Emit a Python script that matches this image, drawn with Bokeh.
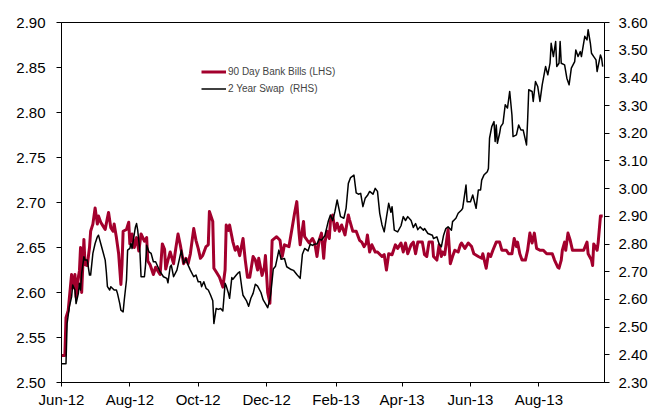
import pandas as pd
from bokeh.plotting import figure
from bokeh.models import (Range1d, LinearAxis, FixedTicker, DatetimeTickFormatter,
                          PrintfTickFormatter, Legend, LegendItem, ColumnDataSource)
from bokeh.embed import file_html
from bokeh.resources import INLINE

# ---- data (days since 1 Jun 2012) ----
start = pd.Timestamp("2012-06-01")
end_offset_days = 484.6

bills_day = [0, 3, 4, 6, 9, 10, 12, 13, 15, 16, 17, 18, 20, 21, 23, 25, 26, 28, 30, 32, 33, 35, 37, 39, 41, 42, 44, 46, 47, 49,
             51, 53, 54, 55, 58, 60, 61, 63, 65, 67, 69, 71, 74, 76, 77, 79, 82, 84, 86, 88, 90, 92, 93, 95, 97, 100, 102, 104, 106, 109,
             111, 113, 115, 118, 120, 122, 124, 126, 129, 131, 132, 135, 136, 138, 141, 144, 146, 147, 149, 150, 153, 155, 157, 159, 162, 164, 166, 168, 171, 173,
             175, 176, 179, 181, 182, 184, 186, 188, 192, 195, 197, 199, 203, 206, 208, 210, 212, 213, 216, 217, 221, 224, 226, 228, 230, 232, 234, 235, 237, 239,
             240, 242, 244, 246, 248, 250, 253, 256, 257, 260, 263, 266, 268, 270, 272, 273, 275, 277, 280, 282, 286, 288, 290, 292, 295, 298, 300, 303, 305, 307,
             309, 312, 314, 316, 318, 322, 324, 326, 328, 331, 332, 335, 337, 339, 340, 342, 345, 347, 349, 351, 354, 356, 357, 360, 363, 366, 368, 372, 375, 376,
             379, 381, 383, 385, 388, 391, 393, 397, 399, 402, 404, 406, 407, 409, 411, 414, 416, 418, 420, 422, 424, 427, 430, 433, 436, 438, 440, 443, 444, 446,
             447, 449, 450, 452, 454, 456, 458, 461, 465, 466, 469, 470, 473, 474, 475, 478, 479, 481, 483]
bills_val = [2.530, 2.530, 2.572, 2.580, 2.620, 2.605, 2.620, 2.595, 2.617, 2.624, 2.650, 2.600, 2.659, 2.631, 2.630, 2.650, 2.668, 2.676, 2.694, 2.676, 2.685, 2.678, 2.674, 2.670, 2.683, 2.689, 2.672, 2.668, 2.676, 2.661,
             2.643, 2.609, 2.631, 2.668, 2.670, 2.678, 2.654, 2.665, 2.650, 2.661, 2.646, 2.665, 2.657, 2.661, 2.635, 2.631, 2.620, 2.628, 2.624, 2.620, 2.654, 2.648, 2.626, 2.636, 2.645, 2.632, 2.649, 2.665, 2.653, 2.632,
             2.638, 2.632, 2.643, 2.671, 2.658, 2.649, 2.638, 2.641, 2.651, 2.653, 2.690, 2.679, 2.627, 2.623, 2.617, 2.606, 2.625, 2.675, 2.669, 2.675, 2.656, 2.647, 2.651, 2.641, 2.660, 2.636, 2.617, 2.617, 2.640, 2.636,
             2.625, 2.638, 2.619, 2.628, 2.641, 2.600, 2.588, 2.658, 2.662, 2.658, 2.640, 2.653, 2.651, 2.673, 2.688, 2.701, 2.666, 2.653, 2.679, 2.662, 2.655, 2.660, 2.655, 2.640, 2.658, 2.666, 2.638, 2.655, 2.668, 2.660,
             2.679, 2.686, 2.669, 2.677, 2.668, 2.675, 2.664, 2.686, 2.681, 2.668, 2.668, 2.658, 2.656, 2.651, 2.655, 2.664, 2.645, 2.653, 2.645, 2.645, 2.640, 2.642, 2.625, 2.643, 2.642, 2.653, 2.649, 2.655, 2.645, 2.655,
             2.643, 2.653, 2.656, 2.643, 2.656, 2.656, 2.642, 2.640, 2.656, 2.656, 2.640, 2.636, 2.653, 2.640, 2.645, 2.642, 2.670, 2.632, 2.640, 2.647, 2.645, 2.653, 2.655, 2.649, 2.655, 2.651, 2.643, 2.640, 2.638, 2.643,
             2.627, 2.643, 2.640, 2.647, 2.656, 2.656, 2.647, 2.647, 2.643, 2.643, 2.660, 2.651, 2.656, 2.643, 2.636, 2.636, 2.647, 2.666, 2.655, 2.666, 2.649, 2.647, 2.647, 2.643, 2.643, 2.643, 2.636, 2.628, 2.627, 2.636,
             2.647, 2.656, 2.647, 2.666, 2.658, 2.647, 2.647, 2.647, 2.647, 2.647, 2.656, 2.643, 2.636, 2.630, 2.654, 2.647, 2.656, 2.685, 2.685]

swap_day = [0, 4, 5, 7, 9, 10, 12, 13, 15, 16, 17, 18, 20, 21, 23, 25, 26, 28, 30, 32, 33, 35, 37, 39, 40, 41, 43, 44, 47, 49,
            50, 52, 53, 55, 56, 58, 59, 61, 62, 63, 65, 66, 67, 68, 70, 71, 74, 75, 76, 78, 80, 82, 84, 86, 88, 91, 94, 95, 97, 98,
            100, 103, 105, 107, 109, 111, 113, 115, 118, 120, 122, 124, 125, 127, 129, 131, 133, 135, 136, 138, 140, 142, 144, 146, 147, 149, 150, 152, 153, 156,
            158, 159, 161, 162, 165, 167, 169, 171, 173, 175, 178, 180, 182, 184, 186, 187, 189, 191, 194, 196, 199, 201, 205, 207, 210, 213, 215, 217, 220, 222,
            224, 226, 228, 230, 232, 235, 238, 240, 242, 244, 246, 248, 249, 252, 254, 256, 258, 261, 263, 265, 267, 269, 271, 273, 275, 278, 280, 282, 284, 286,
            288, 290, 292, 294, 295, 297, 300, 303, 305, 307, 309, 312, 314, 316, 318, 320, 323, 324, 327, 331, 332, 335, 337, 339, 341, 343, 345, 348, 349, 352,
            354, 357, 358, 361, 362, 365, 367, 370, 372, 374, 375, 377, 380, 381, 382, 384, 386, 387, 388, 389, 391, 392, 394, 396, 398, 399, 400, 402, 403, 406,
            408, 410, 412, 415, 416, 417, 420, 421, 423, 425, 427, 429, 432, 434, 436, 437, 439, 441, 442, 444, 445, 446, 449, 451, 453, 455, 458, 459, 461, 463,
            464, 467, 469, 470, 472, 473, 475, 477, 478, 481, 482, 483]
swap_val = [2.368, 2.368, 2.513, 2.573, 2.609, 2.652, 2.634, 2.585, 2.621, 2.658, 2.634, 2.694, 2.754, 2.742, 2.742, 2.688, 2.688, 2.766, 2.802, 2.826, 2.832, 2.802, 2.772, 2.742, 2.700, 2.646, 2.634, 2.646, 2.634, 2.634,
            2.621, 2.585, 2.561, 2.555, 2.597, 2.670, 2.778, 2.784, 2.802, 2.784, 2.838, 2.862, 2.874, 2.850, 2.772, 2.682, 2.682, 2.724, 2.796, 2.772, 2.766, 2.736, 2.736, 2.718, 2.700, 2.682, 2.676, 2.660, 2.718, 2.724,
            2.682, 2.706, 2.742, 2.778, 2.730, 2.748, 2.724, 2.706, 2.682, 2.688, 2.664, 2.664, 2.646, 2.664, 2.640, 2.634, 2.616, 2.595, 2.513, 2.567, 2.564, 2.567, 2.558, 2.658, 2.649, 2.622, 2.604, 2.679, 2.673, 2.688,
            2.697, 2.700, 2.640, 2.615, 2.596, 2.575, 2.604, 2.622, 2.655, 2.648, 2.625, 2.598, 2.585, 2.570, 2.600, 2.630, 2.710, 2.720, 2.778, 2.745, 2.748, 2.718, 2.708, 2.705, 2.690, 2.676, 2.763, 2.784, 2.775, 2.800,
            2.795, 2.800, 2.800, 2.818, 2.814, 2.830, 2.881, 2.905, 2.885, 2.917, 2.959, 2.920, 2.899, 2.893, 2.930, 3.019, 3.040, 3.049, 2.985, 2.980, 2.983, 2.935, 2.965, 2.975, 2.990, 2.980, 3.001, 2.990, 2.911, 2.870,
            2.844, 2.896, 2.947, 2.915, 2.935, 2.850, 2.844, 2.866, 2.899, 2.885, 2.899, 2.885, 2.860, 2.874, 2.852, 2.862, 2.850, 2.856, 2.838, 2.832, 2.820, 2.826, 2.800, 2.790, 2.832, 2.856, 2.862, 2.850, 2.881, 2.893,
            2.911, 2.923, 2.929, 3.013, 2.953, 2.953, 2.977, 2.929, 2.995, 2.995, 3.031, 3.049, 3.061, 3.073, 3.182, 3.224, 3.242, 3.170, 3.230, 3.164, 3.200, 3.224, 3.236, 3.303, 3.291, 3.321, 3.351, 3.266, 3.188, 3.194,
            3.230, 3.212, 3.212, 3.158, 3.248, 3.357, 3.351, 3.315, 3.387, 3.369, 3.315, 3.375, 3.441, 3.411, 3.453, 3.525, 3.477, 3.531, 3.441, 3.453, 3.531, 3.453, 3.447, 3.399, 3.375, 3.435, 3.459, 3.501, 3.477, 3.495,
            3.477, 3.550, 3.537, 3.574, 3.525, 3.489, 3.477, 3.465, 3.423, 3.483, 3.471, 3.441]

x_tick_dates = ["2012-06-01", "2012-08-01", "2012-10-01", "2012-12-01",
                "2013-02-01", "2013-04-01", "2013-06-01", "2013-08-01"]
lhs_ticks = [2.50, 2.55, 2.60, 2.65, 2.70, 2.75, 2.80, 2.85, 2.90]
rhs_ticks = [2.30, 2.40, 2.50, 2.60, 2.70, 2.80, 2.90, 3.00, 3.10, 3.20, 3.30, 3.40, 3.50, 3.60]

bills_label = "90 Day Bank Bills (LHS)"
swap_label = "2 Year Swap  (RHS)"

RED = "#A3002D"
FONT = "Liberation Sans"

# ---- build ----
bills_src = ColumnDataSource(dict(
    x=start + pd.to_timedelta(bills_day, unit="D"), y=bills_val))
swap_src = ColumnDataSource(dict(
    x=start + pd.to_timedelta(swap_day, unit="D"), y=swap_val))

x_end = start + pd.Timedelta(days=end_offset_days)

p = figure(frame_width=543, frame_height=360, x_axis_type="datetime",
           output_backend="svg", toolbar_location=None,
           x_range=Range1d(start.to_pydatetime(), x_end.to_pydatetime()),
           y_range=Range1d(lhs_ticks[0], lhs_ticks[-1]),
           min_border_left=61, min_border_right=44, min_border_top=22, min_border_bottom=24)
p.extra_y_ranges = {"rhs": Range1d(rhs_ticks[0], rhs_ticks[-1])}
p.xgrid.visible = False
p.ygrid.visible = False
p.outline_line_color = "black"
p.outline_line_width = 1
p.background_fill_color = "white"
p.border_fill_color = "white"

# left axis
p.yaxis.ticker = FixedTicker(ticks=lhs_ticks)
p.yaxis.formatter = PrintfTickFormatter(format="%.2f")
# right axis
ax_r = LinearAxis(y_range_name="rhs", ticker=FixedTicker(ticks=rhs_ticks),
                  formatter=PrintfTickFormatter(format="%.2f"))
p.add_layout(ax_r, "right")

# x axis
xt = [pd.Timestamp(d).value / 1e6 for d in x_tick_dates]
p.xaxis.ticker = FixedTicker(ticks=xt)
fmt = "%b-%y"
p.xaxis.formatter = DatetimeTickFormatter(
    milliseconds=fmt, seconds=fmt, minsec=fmt, minutes=fmt, hourmin=fmt,
    hours=fmt, days=fmt, months=fmt, years=fmt)

for ax in p.axis:
    ax.axis_line_color = "black"
    ax.axis_line_width = 1
    ax.major_tick_line_color = "black"
    ax.minor_tick_line_color = None
    ax.major_tick_in = 0
    ax.major_tick_out = 5
    ax.major_label_text_font = FONT
    ax.major_label_text_font_size = "15px"
    ax.major_label_text_color = "black"

p.yaxis[0].major_label_standoff = 11
ax_r.major_label_standoff = 9
p.xaxis.major_tick_out = 4
p.xaxis.major_label_standoff = 4

r1 = p.line("x", "y", source=bills_src, line_color=RED, line_width=3, line_join="round")
r2 = p.line("x", "y", source=swap_src, y_range_name="rhs", line_color="black",
            line_width=1.5, line_join="round")

legend = Legend(items=[LegendItem(label=bills_label, renderers=[r1]),
                       LegendItem(label=swap_label, renderers=[r2])],
                location=(140, 285), orientation="vertical",
                border_line_color=None, background_fill_alpha=0,
                padding=0, margin=0, spacing=0, glyph_width=25, glyph_height=17,
                label_height=17, label_standoff=2,
                label_text_font=FONT, label_text_font_size="10px")
p.add_layout(legend)

open("out.html", "w").write(file_html(p, INLINE))
